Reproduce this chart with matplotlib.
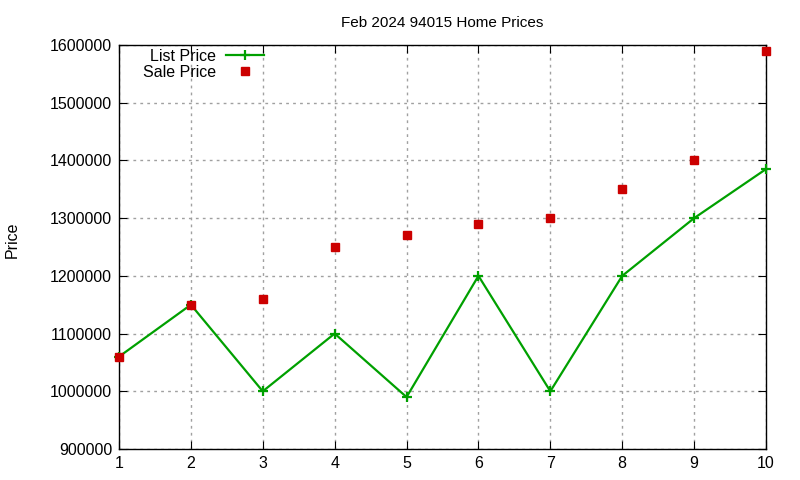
import matplotlib.pyplot as plt
from matplotlib.ticker import MultipleLocator

plt.rcParams['font.family'] = ['Liberation Sans', 'DejaVu Sans']

x = [1, 2, 3, 4, 5, 6, 7, 8, 9, 10]
list_price = [1060000, 1150000, 1000000, 1100000, 990000, 1200000, 1000000, 1200000, 1300000, 1385000]
sale_price = [1060000, 1150000, 1160000, 1250000, 1270000, 1290000, 1300000, 1350000, 1400000, 1590000]

fig = plt.figure(figsize=(8, 4.8), dpi=100)
ax = fig.add_axes([119/800, 31/480, 647/800, 404/480])

ax.plot(x, list_price, color='#00a000', lw=1.6, marker='+', ms=7, mew=1.6, label='List Price',
        zorder=3, clip_on=False)
ax.plot(x, sale_price, ls='none', marker='s', ms=5.5, color='#cc0000', label='Sale Price',
        zorder=4, clip_on=False)

ax.set_xlim(1, 10)
ax.set_ylim(900000, 1600000)
ax.xaxis.set_major_locator(MultipleLocator(1))
ax.yaxis.set_major_locator(MultipleLocator(100000))
ax.ticklabel_format(axis='y', style='plain', useOffset=False)
ax.grid(True, color='#a0a0a0', ls=(0, (2, 3)), lw=1)
ax.tick_params(direction='in', top=True, right=True, length=6, labelsize=11.5, pad=5)
for s in ax.spines.values():
    s.set_linewidth(1)

ax.set_title('Feb 2024 94015 Home Prices', fontsize=11, pad=13)
fig.text(12/800, 0.5, 'Price', rotation=90, va='center', ha='center', fontsize=11.5)

ax.legend(loc='upper left', bbox_to_anchor=(0.02, 1.018), frameon=False, markerfirst=False,
          fontsize=11.5, handlelength=2.4, labelspacing=0.05, handletextpad=0.6, borderpad=0.2)

fig.savefig('out.png')
